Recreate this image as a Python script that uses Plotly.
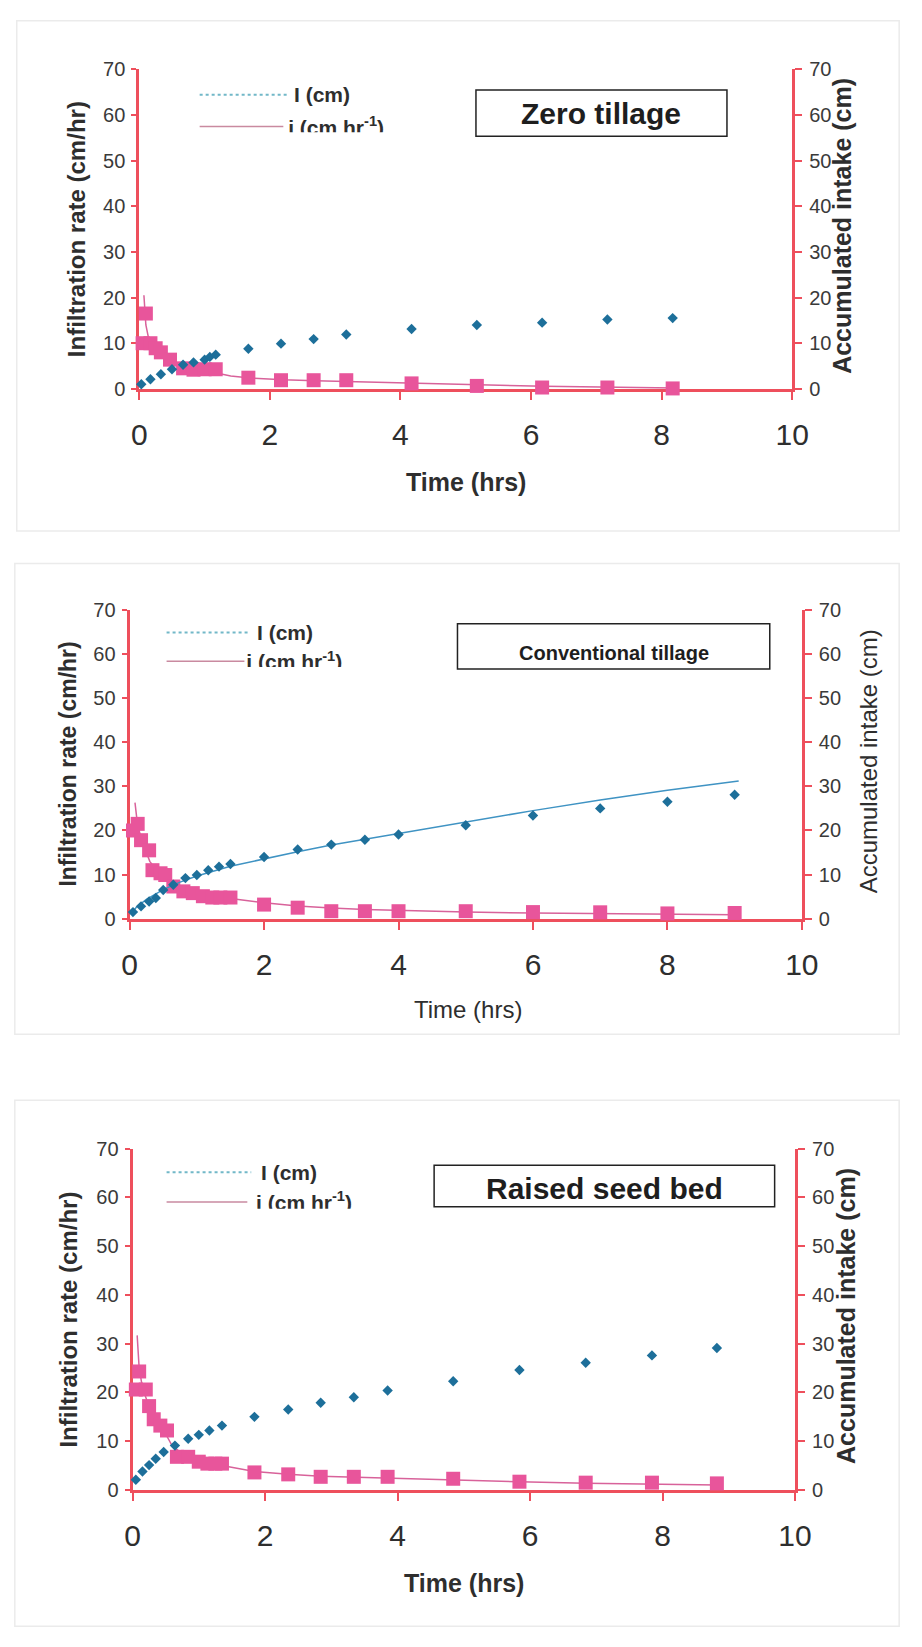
import plotly.graph_objects as go

W, H = 922, 1647

# ---------------- data ----------------
# Zero tillage
zt_t_I = [0.03, 0.17, 0.33, 0.5, 0.67, 0.83, 1.0, 1.08, 1.17, 1.67, 2.17, 2.67, 3.17, 4.17, 5.17, 6.17, 7.17, 8.17]
zt_I = [1.0, 2.1, 3.2, 4.3, 5.3, 5.8, 6.4, 7.0, 7.5, 8.8, 9.9, 10.9, 11.9, 13.1, 14.0, 14.5, 15.2, 15.5]
zt_t_i = [0.05, 0.1, 0.17, 0.25, 0.33, 0.47, 0.67, 0.83, 1.0, 1.17, 1.67, 2.17, 2.67, 3.17, 4.17, 5.17, 6.17, 7.17, 8.17]
zt_i = [10.0, 16.5, 10.0, 8.9, 8.0, 6.4, 4.5, 4.2, 4.3, 4.3, 2.45, 1.9, 1.9, 1.9, 1.2, 0.65, 0.3, 0.3, 0.1]
zt_fit_t = [0.07, 0.1, 0.15, 0.25, 0.4, 0.6, 0.8, 1.0, 1.2, 1.4, 1.7, 2.2, 2.7, 3.2, 3.7, 4.2, 5.2, 6.2, 7.2, 8.2]
zt_fit_i = [20.5, 14.0, 10.5, 8.6, 7.0, 5.2, 4.2, 3.7, 3.4, 2.8, 2.4, 2.0, 1.8, 1.6, 1.4, 1.2, 0.9, 0.6, 0.4, 0.2]

# Conventional tillage
ct_t_I = [0.05, 0.17, 0.29, 0.39, 0.5, 0.65, 0.83, 1.0, 1.17, 1.33, 1.5, 2.0, 2.5, 3.0, 3.5, 4.0, 5.0, 6.0, 7.0, 8.0, 9.0]
ct_I = [1.5, 2.8, 3.9, 4.7, 6.5, 7.7, 9.2, 9.9, 11.0, 11.8, 12.4, 14.0, 15.7, 16.8, 17.9, 19.1, 21.2, 23.4, 25.0, 26.5, 28.1]
ct_fit_t = [0.02, 0.1, 0.25, 0.5, 0.75, 1.0, 1.5, 2.0, 2.5, 3.0, 3.5, 4.0, 5.0, 6.0, 7.0, 8.0, 9.06]
ct_fit_I = [1.0, 2.6, 4.4, 6.6, 8.3, 9.7, 11.9, 13.6, 15.2, 16.7, 18.0, 19.3, 22.0, 24.5, 26.9, 29.1, 31.2]
ct_t_i = [0.05, 0.12, 0.17, 0.29, 0.34, 0.46, 0.53, 0.65, 0.8, 0.94, 1.09, 1.23, 1.35, 1.5, 2.0, 2.5, 3.0, 3.5, 4.0, 5.0, 6.0, 7.0, 8.0, 9.0]
ct_i = [20.0, 21.5, 17.8, 15.5, 11.0, 10.3, 9.9, 7.3, 6.2, 5.8, 5.1, 4.8, 4.8, 4.8, 3.2, 2.5, 1.7, 1.7, 1.7, 1.7, 1.5, 1.45, 1.2, 1.3]
ct_fit_ti = [0.08, 0.12, 0.2, 0.3, 0.45, 0.6, 0.8, 1.0, 1.5, 2.0, 2.5, 3.0, 3.5, 4.0, 5.0, 6.0, 7.0, 8.0, 9.0]
ct_fit_i = [26.3, 21.0, 17.0, 13.0, 10.0, 8.0, 6.5, 5.7, 4.6, 3.6, 2.9, 2.4, 2.1, 1.9, 1.5, 1.3, 1.2, 1.1, 0.9]

# Raised seed bed
rb_t_I = [0.05, 0.15, 0.25, 0.35, 0.47, 0.64, 0.84, 1.0, 1.16, 1.35, 1.84, 2.35, 2.84, 3.34, 3.85, 4.84, 5.84, 6.84, 7.84, 8.82]
rb_I = [2.1, 3.8, 5.1, 6.4, 7.8, 9.1, 10.5, 11.3, 12.2, 13.2, 15.0, 16.5, 17.9, 19.0, 20.4, 22.3, 24.6, 26.1, 27.6, 29.1]
rb_t_i = [0.05, 0.1, 0.2, 0.25, 0.32, 0.42, 0.52, 0.67, 0.84, 1.0, 1.13, 1.25, 1.35, 1.84, 2.35, 2.84, 3.34, 3.85, 4.84, 5.84, 6.84, 7.84, 8.82]
rb_i = [20.6, 24.3, 20.6, 17.2, 14.5, 13.2, 12.2, 6.8, 6.8, 5.8, 5.4, 5.4, 5.4, 3.6, 3.2, 2.7, 2.7, 2.7, 2.3, 1.7, 1.5, 1.5, 1.35]
rb_fit_t = [0.07, 0.1, 0.15, 0.25, 0.35, 0.5, 0.6, 0.8, 1.0, 1.35, 1.84, 2.35, 2.84, 3.34, 3.85, 4.84, 5.84, 6.84, 7.84, 8.82]
rb_fit_i = [31.7, 25.0, 21.0, 17.0, 14.0, 11.5, 9.0, 7.0, 6.0, 5.0, 3.8, 3.2, 2.8, 2.6, 2.4, 2.0, 1.7, 1.4, 1.2, 1.0]

x_ticks = [0, 2, 4, 6, 8, 10]
y_ticks = [0, 10, 20, 30, 40, 50, 60, 70]

# ---------------- styling ----------------
AXIS_RED = "#EE4F5C"
PINK = "#E8559B"
PINK_LINE = "#D8629A"
BLUE = "#1D6F9A"
BLUE_LINE = "#3F93C3"
TXT = "#2E2E2E"
FONT = "Liberation Sans, Arial, sans-serif"


def px(x):
    return x / W


def py(y):
    return 1 - y / H


panels = [
    dict(name="Zero tillage", box=(481, 80, 739, 127), title_size=30, title_y=104,
         plot=(135, 59, 806, 383),
         I=(zt_t_I, zt_I), fitI=None, i=(zt_t_i, zt_i), fiti=(zt_fit_t, zt_fit_i),
         ltitle=(70, 24), rtitle=(857, 25, True), xtitle=(471, 477, 25, True),
         leg=dict(x0=197, x1=287, yI=85, ytxt=120, clip=123, tx=292, ix=288)),
    dict(name="Conventional tillage", box=(462, 621, 783, 667), title_size=20, title_y=651,
         plot=(125, 607, 816, 920),
         I=(ct_t_I, ct_I), fitI=(ct_fit_t, ct_fit_I), i=(ct_t_i, ct_i), fiti=(ct_fit_ti, ct_fit_i),
         ltitle=(62, 23), rtitle=(884, 24, False), xtitle=(473, 1012, 24, False),
         leg=dict(x0=163, x1=247, yI=630, ytxt=662, clip=665, tx=254, ix=245)),
    dict(name="Raised seed bed", box=(438, 1170, 788, 1212), title_size=30, title_y=1193,
         plot=(128, 1153, 809, 1499),
         I=(rb_t_I, rb_I), fitI=None, i=(rb_t_i, rb_i), fiti=(rb_fit_t, rb_fit_i),
         ltitle=(62, 24), rtitle=(862, 25, True), xtitle=(469, 1593, 25, True),
         leg=dict(x0=163, x1=250, yI=1177, ytxt=1210, clip=1214, tx=258, ix=255)),
]

fig = go.Figure()
layout = dict(
    width=W, height=H, margin=dict(l=0, r=0, t=0, b=0),
    paper_bgcolor="white", plot_bgcolor="rgba(0,0,0,0)",
    showlegend=False, font=dict(family=FONT, color=TXT),
)
shapes = []
annotations = []

# faint panel frames
for (fx0, fy0, fx1, fy1) in [(9, 10, 916, 527), (7, 560, 916, 1037), (7, 1104, 916, 1637)]:
    shapes.append(dict(type="rect", xref="paper", yref="paper",
                       x0=px(fx0), x1=px(fx1), y0=py(fy1), y1=py(fy0),
                       line=dict(color="#EBEBEB", width=1.5), fillcolor="rgba(0,0,0,0)"))

for k, p in enumerate(panels):
    n = k + 1
    xa = f"x{'' if n == 1 else n}"
    yl_id = 4 * k + 1
    yr_id = 4 * k + 2
    yc_id = 4 * k + 3
    yl = "y" if yl_id == 1 else f"y{yl_id}"
    yr = f"y{yr_id}"
    x0, y0, x1, y1 = p["plot"]
    xdom = [px(x0), px(x1)]
    ydom = [py(y1), py(y0)]

    layout[f"xaxis{'' if n == 1 else n}"] = dict(
        domain=xdom, range=[0, 10], anchor=yl, tickvals=x_ticks,
        ticks="outside", ticklen=8, tickwidth=2, tickcolor=AXIS_RED,
        showline=True, linecolor=AXIS_RED, linewidth=3,
        showgrid=False, zeroline=False, layer="below traces",
        tickfont=dict(size=30, color=TXT, family=FONT), ticklabelstandoff=9,
    )
    layout[f"yaxis{'' if yl_id == 1 else yl_id}"] = dict(
        domain=ydom, range=[0, 70], anchor=xa, tickvals=y_ticks,
        ticks="outside", ticklen=5, tickwidth=2, tickcolor=AXIS_RED,
        showline=True, linecolor=AXIS_RED, linewidth=3,
        showgrid=False, zeroline=False, layer="below traces",
        tickfont=dict(size=20, color="#3A3A3A", family=FONT), ticklabelstandoff=2,
    )
    layout[f"yaxis{yr_id}"] = dict(
        range=[0, 70], anchor=xa, overlaying=yl, side="right", tickvals=y_ticks,
        ticks="outside", ticklen=7, tickwidth=2, tickcolor=AXIS_RED,
        showline=True, linecolor=AXIS_RED, linewidth=3,
        showgrid=False, zeroline=False, layer="below traces",
        tickfont=dict(size=20, color="#3A3A3A", family=FONT), ticklabelstandoff=3,
    )
    # inner half of the right-hand crossing ticks
    layout[f"yaxis{yc_id}"] = dict(
        range=[0, 70], anchor=xa, overlaying=yl, side="right", tickvals=y_ticks,
        ticks="inside", ticklen=7, tickwidth=2, tickcolor=AXIS_RED,
        showline=False, showticklabels=False, showgrid=False, zeroline=False,
        layer="below traces",
    )

    # infiltration rate: fitted curve + measured squares
    ft, fv = p["fiti"]
    fig.add_trace(go.Scatter(x=ft, y=fv, xaxis=xa, yaxis=yl, mode="lines",
                             line=dict(color=PINK_LINE, width=1.5), cliponaxis=False))
    it, iv = p["i"]
    fig.add_trace(go.Scatter(x=it, y=iv, xaxis=xa, yaxis=yl, mode="markers",
                             marker=dict(symbol="square", size=14, color=PINK),
                             cliponaxis=False))
    # accumulated intake
    if p["fitI"] is not None:
        ft, fv = p["fitI"]
        fig.add_trace(go.Scatter(x=ft, y=fv, xaxis=xa, yaxis=yr, mode="lines",
                                 line=dict(color=BLUE_LINE, width=1.5), cliponaxis=False))
    It, Iv = p["I"]
    fig.add_trace(go.Scatter(x=It, y=Iv, xaxis=xa, yaxis=yr, mode="markers",
                             marker=dict(symbol="diamond", size=8, color=BLUE),
                             cliponaxis=False))

    # title box
    bx0, by0, bx1, by1 = p["box"]
    shapes.append(dict(type="rect", xref="paper", yref="paper",
                       x0=px(bx0), x1=px(bx1), y0=py(by1), y1=py(by0),
                       line=dict(color="#222222", width=1.5), fillcolor="white"))
    annotations.append(dict(x=px((bx0 + bx1) / 2), y=py(p["title_y"]), xref="paper", yref="paper",
                            text=f"<b>{p['name']}</b>", showarrow=False,
                            font=dict(size=p["title_size"], color="#1E1E1E", family=FONT),
                            xanchor="center", yanchor="middle"))

    # axis titles
    lx, ls = p["ltitle"]
    annotations.append(dict(x=px(lx), y=py((y0 + y1) / 2), xref="paper", yref="paper",
                            text="<b>Infiltration rate (cm/hr)</b>", textangle=-90, showarrow=False,
                            font=dict(size=ls, color=TXT, family=FONT),
                            xanchor="center", yanchor="middle"))
    rx, rs, rbold = p["rtitle"]
    rtxt = "Accumulated intake (cm)"
    annotations.append(dict(x=px(rx), y=py((y0 + y1) / 2 - 3), xref="paper", yref="paper",
                            text=f"<b>{rtxt}</b>" if rbold else rtxt, textangle=-90, showarrow=False,
                            font=dict(size=rs, color=TXT, family=FONT),
                            xanchor="center", yanchor="middle"))
    tx, ty, ts, tbold = p["xtitle"]
    annotations.append(dict(x=px(tx), y=py(ty), xref="paper", yref="paper",
                            text="<b>Time (hrs)</b>" if tbold else "Time (hrs)", showarrow=False,
                            font=dict(size=ts, color=TXT, family=FONT),
                            xanchor="center", yanchor="middle"))

    # legend
    lg = p["leg"]
    shapes.append(dict(type="line", xref="paper", yref="paper",
                       x0=px(lg["x0"]), x1=px(lg["x1"]), y0=py(lg["yI"]), y1=py(lg["yI"]),
                       line=dict(color="#72B8C8", width=2, dash="dot")))
    shapes.append(dict(type="line", xref="paper", yref="paper",
                       x0=px(lg["x0"]), x1=px(lg["x1"] - 4), y0=py(lg["ytxt"] - 3), y1=py(lg["ytxt"] - 3),
                       line=dict(color="#C98AA0", width=1.5)))
    annotations.append(dict(x=px(lg["tx"]), y=py(lg["yI"]), xref="paper", yref="paper",
                            text="<b>I (cm)</b>", showarrow=False,
                            font=dict(size=21, color=TXT, family=FONT),
                            xanchor="left", yanchor="middle"))
    # second legend entry, cut off at the legend's lower edge
    hx = f"x{20 + n}"
    hy = f"y{20 + n}"
    clip = lg["clip"]
    layout[f"xaxis{20 + n}"] = dict(domain=[0, 1], range=[0, W], anchor=hy, visible=False,
                                    fixedrange=True)
    layout[f"yaxis{20 + n}"] = dict(domain=[py(clip), py(clip - 40)], range=[clip, clip - 40],
                                    anchor=hx, visible=False, fixedrange=True)
    fig.add_trace(go.Scatter(x=[lg["ix"]], y=[lg["ytxt"]], xaxis=hx, yaxis=hy, mode="text",
                             text=["<b>i (cm hr<sup>-1</sup>)</b>"], textposition="middle right",
                             textfont=dict(size=21, color=TXT, family=FONT), cliponaxis=True,
                             hoverinfo="skip"))

layout["shapes"] = shapes
layout["annotations"] = annotations
fig.update_layout(**layout)
fig.write_html("out.html")
